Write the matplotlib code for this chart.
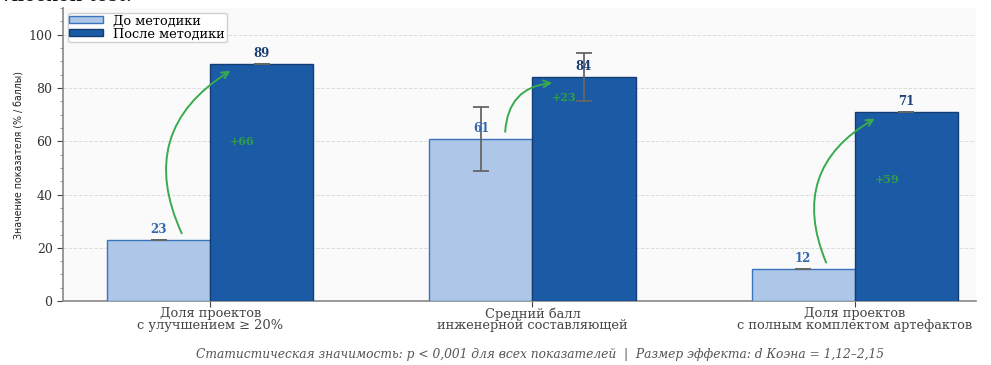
import matplotlib
matplotlib.use("Agg")
import matplotlib.pyplot as plt
from matplotlib.ticker import MultipleLocator
import numpy as np

categories = ["Доля проектов\nс улучшением ≥ 20%",
              "Средний балл\nинженерной составляющей",
              "Доля проектов\nс полным комплектом артефактов"]
before = [23, 61, 12]
after = [89, 84, 71]
before_err = [0, 12, 0]
after_err = [0, 9, 0]
series_names = ["До методики", "После методики"]
yticks = [0, 20, 40, 60, 80, 100]
footer = ("Статистическая значимость: p < 0,001 для всех показателей  |  "
          "Размер эффекта: d Коэна = 1,12–2,15")

plt.rcParams["font.family"] = ["DejaVu Serif"]

fig = plt.figure(figsize=(9.91, 3.65), dpi=100)
ax = fig.add_axes([0.0636, 0.175, 0.921, 0.803])
ax.set_facecolor("#fafafa")

x = np.arange(len(categories))
w = 0.32
c_before, e_before = "#aec7e8", "#3a74bd"
c_after, e_after = "#1b5ba6", "#123e74"

ax.bar(x - w / 2, before, w, color=c_before, edgecolor=e_before, linewidth=1.0,
       label=series_names[0], zorder=3,
       yerr=before_err, capsize=6, error_kw=dict(ecolor="#666666", elinewidth=1.3, capthick=1.3, zorder=4))
ax.bar(x + w / 2, after, w, color=c_after, edgecolor=e_after, linewidth=1.0,
       label=series_names[1], zorder=3,
       yerr=after_err, capsize=6, error_kw=dict(ecolor="#666666", elinewidth=1.3, capthick=1.3, zorder=4))

for i in range(len(categories)):
    ax.text(x[i] - w / 2, before[i] + 1.5, f"{before[i]}", ha="center", va="bottom",
            fontsize=8.5, fontweight="bold", color="#2f68b0", zorder=5)
    ax.text(x[i] + w / 2, after[i] + 1.5, f"{after[i]}", ha="center", va="bottom",
            fontsize=8.5, fontweight="bold", color="#1c3f73", zorder=5)
    ax.annotate("", xy=(x[i] + 0.07, after[i] - 2), xytext=(x[i] - 0.085, before[i] + 1.5),
                arrowprops=dict(arrowstyle="->", color="#3aaa4e", lw=1.4,
                                connectionstyle="arc3,rad=-0.45", mutation_scale=12),
                zorder=6)
    diff = after[i] - before[i]
    ax.text(x[i] + 0.1, (before[i] + after[i]) / 2 + 4, f"+{diff}", ha="center", va="center",
            fontsize=8, fontweight="bold", color="#2f9e44", zorder=6)

ax.set_xlim(-0.457, 2.376)
ax.set_ylim(0, 110)
ax.set_yticks(yticks)
ax.yaxis.set_minor_locator(MultipleLocator(5))
ax.set_xticks(x)
ax.set_xticklabels(categories, fontsize=9.4, color="#333333", linespacing=0.85)
ax.tick_params(axis="y", labelsize=9, colors="#444444", length=4)
ax.tick_params(axis="y", which="minor", length=2.5, colors="#888888")
ax.tick_params(axis="x", length=4, colors="#444444", pad=0.5)
for lab in ax.get_yticklabels():
    lab.set_color("#333333")

ax.grid(axis="y", linestyle="--", color="#dddddd", linewidth=0.7, zorder=0)
for s in ("top", "right"):
    ax.spines[s].set_visible(False)
for s in ("left", "bottom"):
    ax.spines[s].set_color("#888888")
    ax.spines[s].set_linewidth(1.2)

ax.set_ylabel("Значение показателя (% / баллы)", fontsize=7.6,
              family="DejaVu Sans", fontstretch="condensed", color="#222222", labelpad=3)

ax.legend(loc="upper left", fontsize=9.3, frameon=True, framealpha=0.9,
          edgecolor="#cccccc", borderaxespad=0.35, handlelength=2.6,
          handleheight=0.45, labelspacing=0.0, borderpad=0.15, handletextpad=0.8)

fig.text(0.545, 0.03, footer, ha="center", va="center", fontsize=8.8,
         style="italic", color="#555555")
fig.text(-0.008, 1.012, "Wilcoxon test.", ha="left", va="center", fontsize=14, color="#111111")

fig.savefig("out.png", dpi=100, facecolor="white")
